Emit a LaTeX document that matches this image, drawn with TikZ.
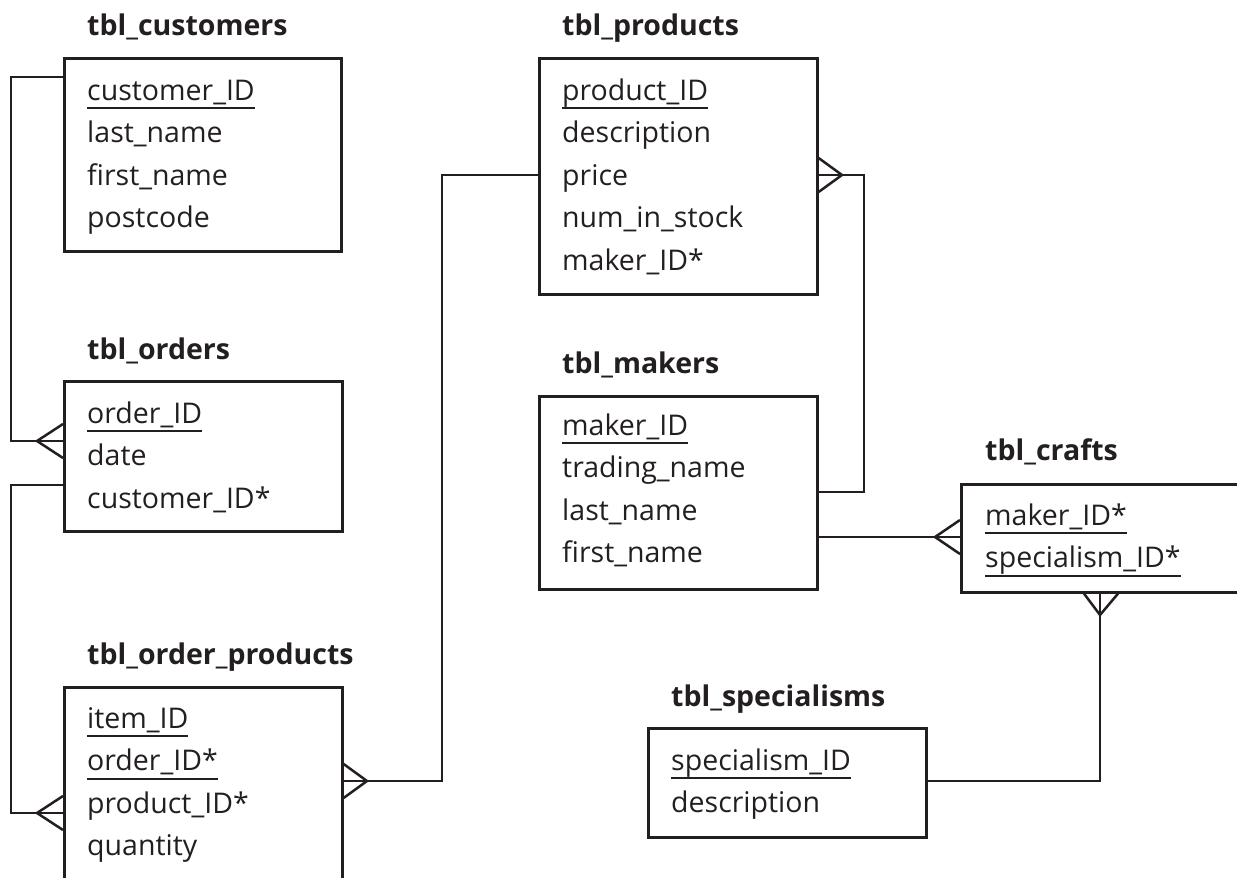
\documentclass[tikz,border=0pt]{standalone}
\usepackage{fontspec}
\setmainfont{Open Sans}
\definecolor{ink}{RGB}{35,31,32}
\newsavebox\ulbox
\newcommand\ulx[1]{\sbox\ulbox{#1}\rlap{\rule[-9pt]{\wd\ulbox}{2pt}}\usebox\ulbox}
\begin{document}
\begin{tikzpicture}[x=1pt,y=-1pt,
  tbox/.style={draw=ink,line width=2.6pt,anchor=north west,inner sep=0pt},
  ttl/.style={anchor=base west,inner sep=0pt,font=\fontsize{28.5}{30}\selectfont\bfseries,text=ink},
  fld/.style={anchor=base west,inner sep=0pt,font=\fontsize{28.5}{30}\selectfont,text=ink,align=left},
  conn/.style={draw=ink,line width=2.5pt},
  every node/.append style={text=ink}]
\useasboundingbox (0,0) rectangle (1237,878);
\clip (0,0) rectangle (1237,878);
% boxes
\node[tbox,minimum width=277pt,minimum height=193pt] (cust) at (63,57) {};
\node[tbox,minimum width=278pt,minimum height=150pt] (ord) at (63,380) {};
\node[tbox,minimum width=278pt,minimum height=214pt] (op) at (63,686) {};
\node[tbox,minimum width=278pt,minimum height=236pt] (prod) at (538,57) {};
\node[tbox,minimum width=278pt,minimum height=193pt] (mak) at (538,395) {};
\node[tbox,minimum width=300pt,minimum height=108pt] (craft) at (960,483) {};
\node[tbox,minimum width=278pt,minimum height=109pt] (spec) at (647,727) {};
% titles
\node[ttl] (custT) at (87,35) {tbl\_customers};
\node[ttl] (ordT) at (87,359) {tbl\_orders};
\node[ttl] (opT) at (87,664) {tbl\_order\_products};
\node[ttl] (prodT) at (562,35) {tbl\_products};
\node[ttl] (makT) at (562,373) {tbl\_makers};
\node[ttl] (craftT) at (985,460) {tbl\_crafts};
\node[ttl] (specT) at (671,706) {tbl\_specialisms};
% fields
\node[fld] (c1) at (87,100) {\ulx{customer\_ID}};
\node[fld] (c2) at (87,142.5) {last\_name};
\node[fld] (c3) at (87,185) {first\_name};
\node[fld] (c4) at (87,227.5) {postcode};
\node[fld] (o1) at (87,423) {\ulx{order\_ID}};
\node[fld] (o2) at (87,465.5) {date};
\node[fld] (o3) at (87,508) {customer\_ID*};
\node[fld] (p1) at (87,728) {\ulx{item\_ID}};
\node[fld] (p2) at (87,770.5) {\ulx{order\_ID*}};
\node[fld] (p3) at (87,813) {product\_ID*};
\node[fld] (p4) at (87,855.5) {quantity};
\node[fld] (r1) at (562,100) {\ulx{product\_ID}};
\node[fld] (r2) at (562,142.5) {description};
\node[fld] (r3) at (562,185) {price};
\node[fld] (r4) at (562,227.5) {num\_in\_stock};
\node[fld] (r5) at (562,270) {maker\_ID*};
\node[fld] (m1) at (562,435) {\ulx{maker\_ID}};
\node[fld] (m2) at (562,477.5) {trading\_name};
\node[fld] (m3) at (562,520) {last\_name};
\node[fld] (m4) at (562,562.5) {first\_name};
\node[fld] (k1) at (985,525) {\ulx{maker\_ID*}};
\node[fld] (k2) at (985,567.5) {\ulx{specialism\_ID*}};
\node[fld] (s1) at (671,770) {\ulx{specialism\_ID}};
\node[fld] (s2) at (671,812.5) {description};
% connectors
% customers - orders
\draw[conn] (cust.west |- 0,77) -- (11,77) |- (ord.west |- 0,441);
\draw[conn] (ord.west |- 0,424) -- (37,441) -- (ord.west |- 0,458);
% orders - order_products
\draw[conn] (ord.west |- 0,485) -- (11,485) |- (op.west |- 0,813);
\draw[conn] (op.west |- 0,796) -- (37,813) -- (op.west |- 0,830);
% order_products - products
\draw[conn] (op.east |- 0,781) -- (442,781) |- (prod.west |- 0,175);
\draw[conn] (op.east |- 0,764) -- (367,781) -- (op.east |- 0,798);
% products - makers
\draw[conn] (prod.east |- 0,175) -- (864,175) |- (mak.east |- 0,492);
\draw[conn] (prod.east |- 0,158) -- (842,175) -- (prod.east |- 0,192);
% makers - crafts
\draw[conn] (mak.east |- 0,537) -- (craft.west |- 0,537);
\draw[conn] (craft.west |- 0,520) -- (935,537) -- (craft.west |- 0,554);
% crafts - specialisms
\draw[conn] (craft.south -| 1100,0) -- (1100,781) -- (spec.east |- 0,781);
\draw[conn] (craft.south -| 1084,0) -- (1100,615) -- (craft.south -| 1118,0);
\end{tikzpicture}
\end{document}
